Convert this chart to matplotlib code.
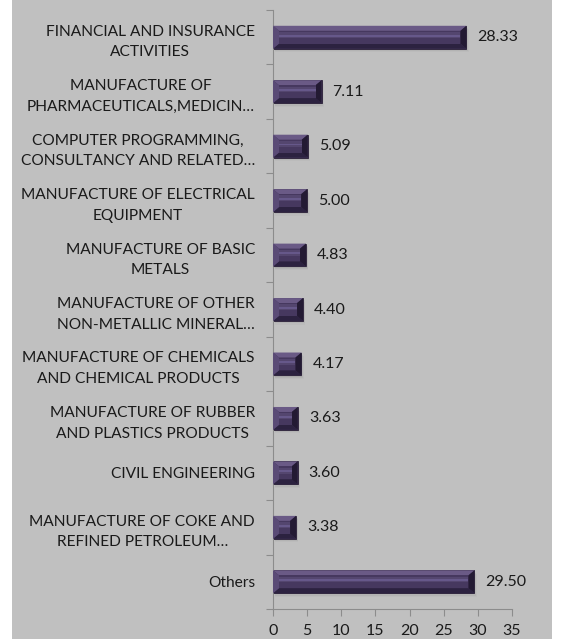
import numpy as np
import matplotlib
matplotlib.use("Agg")
import matplotlib.pyplot as plt
from matplotlib.patches import Polygon, Rectangle

categories = [
    "FINANCIAL AND INSURANCE\nACTIVITIES",
    "MANUFACTURE OF\nPHARMACEUTICALS,MEDICIN…",
    "COMPUTER PROGRAMMING,\nCONSULTANCY AND RELATED…",
    "MANUFACTURE OF ELECTRICAL\nEQUIPMENT",
    "MANUFACTURE OF BASIC\nMETALS",
    "MANUFACTURE OF OTHER\nNON-METALLIC MINERAL…",
    "MANUFACTURE OF CHEMICALS\nAND CHEMICAL PRODUCTS",
    "MANUFACTURE OF RUBBER\nAND PLASTICS PRODUCTS",
    "CIVIL ENGINEERING",
    "MANUFACTURE OF COKE AND\nREFINED PETROLEUM…",
    "Others",
]
values = [28.33, 7.11, 5.09, 5.00, 4.83, 4.40, 4.17, 3.63, 3.60, 3.38, 29.50]
value_labels = ["28.33", "7.11", "5.09", "5.00", "4.83", "4.40", "4.17", "3.63", "3.60", "3.38", "29.50"]
xticks = [0, 5, 10, 15, 20, 25, 30, 35]

plt.rcParams["font.family"] = ["Lato", "DejaVu Sans"]

W, H = 563, 639
fig = plt.figure(figsize=(W / 100, H / 100), dpi=100)
fig.patch.set_facecolor("white")
fig.add_artist(Rectangle((12 / W, 0), 540 / W, 1, transform=fig.transFigure,
                         facecolor="#c0c0c0", edgecolor="none", zorder=-10))

ax = fig.add_axes([273 / W, 1 - 609 / H, (512 - 273) / W, (609 - 10) / H])
ax.set_facecolor("none")
ax.set_zorder(1)

n = len(categories)
ypos = np.arange(n)[::-1]
bar_h = 0.42

ax.set_xlim(0, 35)
ax.set_ylim(-0.5, n - 0.5)

# pixel scale helpers for the bevel insets
px_per_x = (512 - 273) / 35.0
px_per_y = (609 - 10) / n
ix = 6 / px_per_x
iy = 5 / px_per_y

base = "#43355a"
for y, v in zip(ypos, values):
    y0, y1 = y - bar_h / 2, y + bar_h / 2
    # soft drop shadow
    for k, a in enumerate([0.10, 0.07, 0.04]):
        off = (k + 1) * 1.2 / px_per_y
        ax.add_patch(Rectangle((0.05 + (k + 1) * 0.1, y0 - off), v, bar_h,
                               facecolor="#505050", edgecolor="none", alpha=a, zorder=1))
    ax.barh(y, v, height=bar_h, color=base, edgecolor="#2a2038", linewidth=0.6, zorder=2)
    xi0, xi1 = ix, max(v - ix, ix)
    yi0, yi1 = y0 + iy, y1 - iy
    # bevel faces
    ax.add_patch(Polygon([(0, y1), (v, y1), (xi1, yi1), (xi0, yi1)],
                         facecolor="#6a5a86", edgecolor="none", zorder=3))
    ax.add_patch(Polygon([(0, y0), (v, y0), (xi1, yi0), (xi0, yi0)],
                         facecolor="#2c2240", edgecolor="none", zorder=3))
    ax.add_patch(Polygon([(0, y0), (0, y1), (xi0, yi1), (xi0, yi0)],
                         facecolor="#5a4b76", edgecolor="none", zorder=3))
    ax.add_patch(Polygon([(v, y0), (v, y1), (xi1, yi1), (xi1, yi0)],
                         facecolor="#231a33", edgecolor="none", zorder=3))
    # inner face with a light streak
    ax.add_patch(Rectangle((xi0, yi0), xi1 - xi0, yi1 - yi0,
                           facecolor="#46385f", edgecolor="none", zorder=4))
    hh = (yi1 - yi0)
    ax.add_patch(Rectangle((xi0, y - hh * 0.05), xi1 - xi0, hh * 0.45,
                           facecolor="#54466f", edgecolor="none", zorder=5))
    ax.add_patch(Rectangle((xi0, y + hh * 0.05), xi1 - xi0, hh * 0.15,
                           facecolor="#66588a", edgecolor="none", zorder=5))

for y, v, lab in zip(ypos, values, value_labels):
    ax.text(v + 11 / px_per_x, y, lab, va="center", ha="left",
            fontsize=11.5, color="#1a1a1a", zorder=6)

# category labels on minor ticks, boundary ticks as majors
ax.set_yticks(np.arange(-0.5, n, 1.0))
ax.set_yticklabels([])
ax.set_yticks(ypos, minor=True)
ax.set_yticklabels(categories, minor=True, fontsize=11.2, color="#1a1a1a",
                   multialignment="center", linespacing=1.6)
ax.tick_params(axis="y", which="minor", length=0, pad=13)
ax.tick_params(axis="y", which="major", length=5, color="#8c8c8c", width=0.8)

ax.set_xticks(xticks)
ax.set_xticklabels([str(t) for t in xticks], fontsize=11.5, color="#1a1a1a")
ax.tick_params(axis="x", length=5, color="#8c8c8c", width=0.8, pad=6)

for s in ["top", "right"]:
    ax.spines[s].set_visible(False)
for s in ["left", "bottom"]:
    ax.spines[s].set_color("#8c8c8c")
    ax.spines[s].set_linewidth(0.8)

fig.savefig("out.png", dpi=100, facecolor=fig.get_facecolor())
